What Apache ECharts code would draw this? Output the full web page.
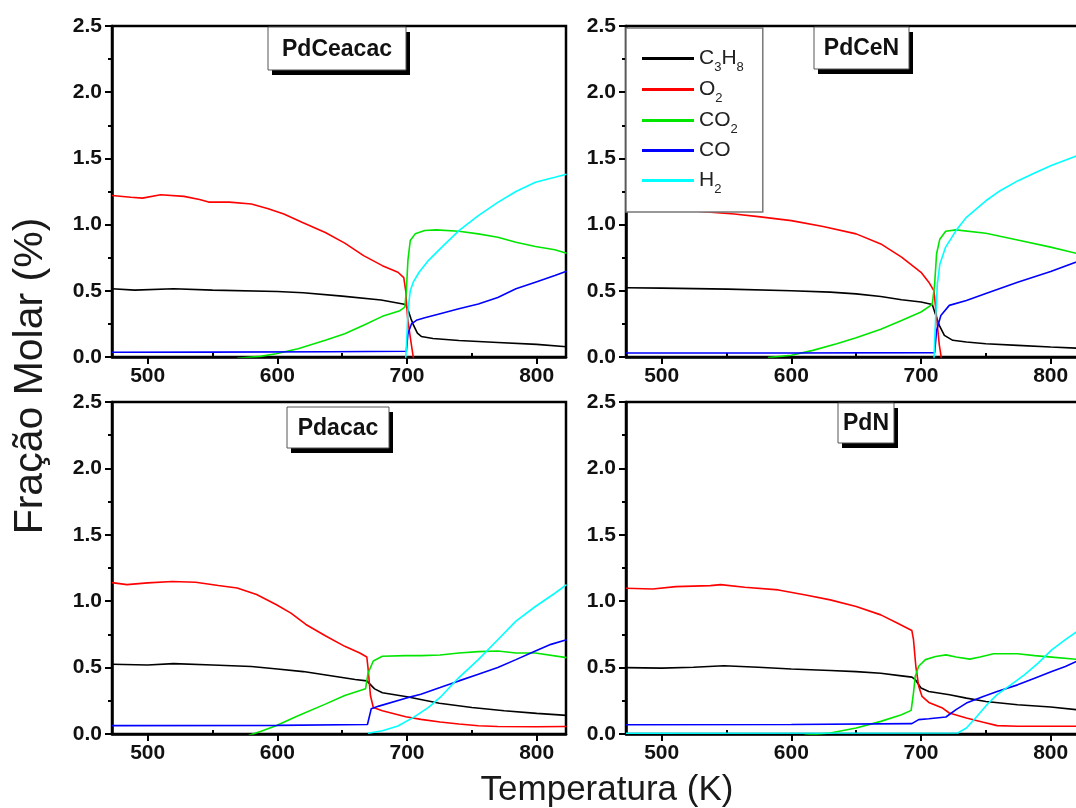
<!DOCTYPE html>
<html>
<head>
<meta charset="utf-8">
<title>Fração molar vs temperatura</title>
<script src="https://cdn.jsdelivr.net/npm/echarts@6/dist/echarts.min.js"></script>
<style>
  html, body { margin: 0; padding: 0; background: #fff; }
  #chart { width: 1076px; height: 808px; }
</style>
</head>
<body>
<div id="chart"></div>
<script>
// Temperature axis range (K) and tick positions
const xMin = 472.5;
const xMax = 822.6;
const xMajorTicks = [500, 600, 700, 800];
const xMinorTicks = [550, 650, 750];

const panelNames = ['PdCeacac', 'PdCeN', 'Pdacac', 'PdN'];
const speciesNames = ['C3H8', 'O2', 'CO2', 'CO', 'H2'];
const speciesLabels = ['C{s|3}H{s|8}', 'O{s|2}', 'CO{s|2}', 'CO', 'H{s|2}'];
const speciesColors = ['#000000', '#ff0000', '#00e600', '#0000ff', '#00ffff'];

// ---- PdCeacac : [T (K), molar fraction (%)] ----
const pdCeacacC3H8 = [[472.5,0.515],[490,0.505],[520,0.515],[550,0.505],[600,0.495],[620,0.485],[650,0.46],[680,0.43],[699,0.397],[701,0.35],[703,0.29],[705,0.24],[708,0.18],[711,0.155],[720,0.14],[740,0.125],[770,0.11],[800,0.095],[823,0.078]];
const pdCeacacO2 = [[472.5,1.22],[487,1.206],[496,1.2],[510,1.226],[528,1.213],[540,1.19],[547,1.17],[563,1.17],[580,1.155],[593,1.12],[605,1.08],[619,1.018],[637,0.94],[652,0.86],[666.5,0.766],[681,0.69],[693,0.64],[697.5,0.6],[699,0.5],[700.4,0.3],[702.5,0.15],[704.8,0],[706.5,-0.04]];
const pdCeacacCO2 = [[569,-0.01],[587,0.005],[599,0.025],[616,0.063],[637,0.126],[652,0.176],[666.5,0.24],[681,0.307],[694.5,0.35],[698.3,0.377],[699.5,0.5],[700.7,0.73],[702.5,0.88],[706.3,0.93],[713.7,0.955],[722.5,0.96],[740,0.95],[755,0.93],[770,0.905],[784,0.867],[799,0.834],[814,0.81],[823,0.784]];
const pdCeacacCO = [[472.5,0.036],[550,0.037],[640,0.04],[699.5,0.043],[700.7,0.176],[703.4,0.25],[707.8,0.28],[713.7,0.296],[725.5,0.327],[740,0.364],[755,0.4],[770,0.45],[784,0.515],[799,0.565],[814,0.615],[823,0.648]];
const pdCeacacH2 = [[699,-0.01],[700,0.176],[700.7,0.35],[702.5,0.5],[704.8,0.565],[709.3,0.64],[716.6,0.73],[725.5,0.817],[740,0.955],[755,1.068],[770,1.168],[784,1.25],[799,1.32],[814,1.357],[823,1.38]];

// ---- PdCeN ----
const pdCeNC3H8 = [[472.5,0.523],[500,0.52],[551,0.513],[600,0.5],[630,0.49],[650,0.477],[669,0.457],[685,0.432],[700,0.415],[708.7,0.397],[711,0.327],[714,0.24],[718,0.163],[724.5,0.126],[735,0.113],[750,0.1],[774.5,0.088],[800,0.075],[823,0.066]];
const pdCeNO2 = [[472.5,1.13],[500,1.12],[530,1.1],[556,1.08],[574.5,1.06],[600,1.03],[624.5,0.985],[650,0.93],[669,0.854],[685,0.754],[700,0.64],[706,0.565],[710,0.5],[712,0.3],[714,0.1],[716,-0.03]];
const pdCeNCO2 = [[582,-0.005],[600,0.013],[616.6,0.05],[635,0.1],[650,0.146],[669,0.21],[685,0.276],[700,0.34],[708.7,0.397],[710.5,0.55],[712,0.78],[714.5,0.89],[719,0.95],[727,0.96],[750,0.935],[774.5,0.884],[800,0.83],[823,0.775]];
const pdCeNCO = [[472.5,0.03],[600,0.03],[710.5,0.033],[712,0.2],[715.3,0.314],[721.8,0.39],[735,0.427],[750,0.48],[774.5,0.565],[800,0.645],[823,0.73]];
const pdCeNH2 = [[710,-0.01],[711.3,0.3],[712.6,0.55],[714.5,0.7],[719,0.83],[727,0.955],[735,1.055],[750,1.18],[761,1.256],[774.5,1.33],[787.6,1.39],[800,1.445],[823,1.53]];

// ---- Pdacac ----
const pdacacC3H8 = [[472.5,0.525],[500,0.52],[520,0.53],[550,0.52],[580,0.508],[600,0.49],[620,0.47],[640,0.44],[660,0.41],[669,0.4],[675,0.34],[681,0.31],[700,0.28],[725,0.232],[750,0.2],[775,0.175],[800,0.155],[823,0.14]];
const pdacacO2 = [[472.5,1.14],[484,1.125],[500,1.138],[519,1.148],[537,1.143],[554.5,1.118],[569,1.1],[584,1.05],[599,0.975],[610.5,0.91],[622,0.825],[637,0.74],[652,0.66],[663.6,0.61],[669,0.58],[670,0.49],[671.8,0.29],[674,0.2],[681,0.175],[699,0.13],[710.7,0.11],[725.5,0.09],[740,0.075],[755,0.062],[770,0.057],[799,0.055],[823,0.057]];
const pdacacCO2 = [[578,-0.01],[587,0.018],[599,0.062],[616,0.137],[637,0.225],[652,0.29],[668,0.34],[670,0.46],[674,0.55],[681,0.585],[699,0.59],[711,0.59],[725.5,0.595],[740,0.61],[755,0.62],[770,0.625],[784,0.61],[799,0.61],[823,0.575]];
const pdacacCO = [[472.5,0.063],[600,0.065],[669.5,0.072],[672.4,0.19],[678.3,0.21],[699,0.27],[710.7,0.3],[725.5,0.35],[740,0.4],[755,0.45],[770,0.5],[784,0.56],[799,0.625],[811,0.675],[823,0.71]];
const pdacacH2 = [[670,0.005],[681,0.025],[693,0.06],[705,0.125],[716.6,0.2],[725.5,0.275],[740,0.425],[755,0.56],[770,0.71],[784,0.85],[799,0.96],[814,1.06],[823,1.125]];

// ---- PdN ----
const pdNC3H8 = [[472.5,0.5],[500,0.496],[524.5,0.503],[548,0.514],[574.5,0.503],[600,0.49],[630,0.478],[650,0.47],[669,0.458],[685,0.438],[693,0.428],[695.5,0.41],[700,0.346],[706,0.32],[722,0.296],[735,0.27],[750,0.245],[774.5,0.22],[800,0.203],[823,0.18]];
const pdNO2 = [[472.5,1.097],[493,1.092],[511,1.11],[537.6,1.117],[545.5,1.125],[564,1.105],[590,1.085],[611,1.047],[630,1.01],[650,0.96],[669,0.897],[682,0.834],[692.9,0.78],[694.2,0.71],[696,0.51],[698.2,0.36],[700.8,0.283],[706,0.238],[716.6,0.195],[721.8,0.158],[735,0.12],[748,0.088],[758.7,0.063],[774.5,0.058],[823,0.058]];
const pdNCO2 = [[610,-0.01],[630,0.008],[650,0.045],[669,0.095],[685,0.145],[692.4,0.178],[694.2,0.31],[695.5,0.433],[698.2,0.51],[703.4,0.56],[711.3,0.584],[719.2,0.596],[727,0.58],[737.6,0.564],[745.5,0.58],[756,0.604],[774.5,0.604],[787.6,0.59],[800.8,0.579],[823,0.56]];
const pdNCO = [[472.5,0.07],[600,0.072],[692.9,0.078],[698.2,0.108],[706,0.115],[719.2,0.128],[727,0.183],[735,0.233],[748,0.283],[758.7,0.32],[774.5,0.37],[787.6,0.42],[800.8,0.47],[811.3,0.508],[823,0.56]];
const pdNH2 = [[472.5,0.006],[728.4,0.008],[735,0.045],[742.9,0.13],[750.8,0.22],[758.7,0.296],[769.2,0.37],[779.7,0.446],[790.3,0.534],[800.8,0.634],[811.3,0.71],[823,0.79]];

const panelSeries = [
  [pdCeacacC3H8, pdCeacacO2, pdCeacacCO2, pdCeacacCO, pdCeacacH2],
  [pdCeNC3H8, pdCeNO2, pdCeNCO2, pdCeNCO, pdCeNH2],
  [pdacacC3H8, pdacacO2, pdacacCO2, pdacacCO, pdacacH2],
  [pdNC3H8, pdNO2, pdNCO2, pdNCO, pdNH2]
];

const FONT = "'Liberation Sans', Arial, Helvetica, sans-serif";

// Plot rectangles of the four panels
const gridBoxes = [
  { left: 112, top: 26, width: 454, height: 331 },
  { left: 626, top: 26, width: 454, height: 331 },
  { left: 112, top: 402, width: 454, height: 332 },
  { left: 626, top: 402, width: 454, height: 332 }
];

// Sample-name boxes (with a hard drop shadow) inside each panel
const nameBoxes = [
  { x: 268, y: 27, w: 138, h: 43 },
  { x: 814, y: 27, w: 95, h: 42 },
  { x: 287, y: 407, w: 102, h: 41 },
  { x: 838, y: 403, w: 56, h: 40 }
];

const grids = gridBoxes.map(b => Object.assign({
  show: true,
  borderColor: '#000',
  borderWidth: 2.5,
  backgroundColor: 'transparent',
  containLabel: false,
  outerBoundsMode: 'none'
}, b));

const xAxes = [];
const yAxes = [];
gridBoxes.forEach((b, i) => {
  xAxes.push({
    type: 'value', gridIndex: i, min: xMin, max: xMax,
    axisLine: { show: true, onZero: false, lineStyle: { color: '#000', width: 2.5 } },
    axisTick: { show: true, inside: false, length: 7, customValues: xMajorTicks,
      lineStyle: { color: '#000', width: 2 } },
    axisLabel: { show: true, margin: 9, customValues: xMajorTicks,
      fontFamily: FONT, fontSize: 21, fontWeight: 'bold', color: '#111' },
    splitLine: { show: false }
  });
  xAxes.push({
    type: 'value', gridIndex: i, min: xMin, max: xMax,
    axisLine: { show: false },
    axisTick: { show: true, inside: false, length: 4, customValues: xMinorTicks,
      lineStyle: { color: '#000', width: 2 } },
    axisLabel: { show: false },
    splitLine: { show: false }
  });
  yAxes.push({
    type: 'value', gridIndex: i, min: 0, max: 2.5, interval: 0.5,
    axisLine: { show: true, onZero: false, lineStyle: { color: '#000', width: 2.5 } },
    axisTick: { show: true, inside: false, length: 7, lineStyle: { color: '#000', width: 2 } },
    minorTick: { show: true, splitNumber: 2, length: 4, lineStyle: { color: '#000', width: 2 } },
    axisLabel: { margin: 10, fontFamily: FONT, fontSize: 21, fontWeight: 'bold', color: '#111',
      formatter: v => v.toFixed(1) },
    splitLine: { show: false },
    minorSplitLine: { show: false }
  });
});

const series = [];
panelSeries.forEach((list, p) => {
  list.forEach((data, k) => {
    series.push({
      type: 'line',
      name: speciesNames[k],
      xAxisIndex: p * 2,
      yAxisIndex: p,
      data: data,
      symbol: 'none',
      clip: true,
      smooth: false,
      animation: false,
      lineStyle: { color: speciesColors[k], width: 1.6 },
      itemStyle: { color: speciesColors[k] }
    });
  });
});

// Name boxes: black offset shadow, white framed box, bold label
const nameGraphics = panelNames.map((name, i) => {
  const b = nameBoxes[i];
  return {
    type: 'group', z: 100,
    children: [
      { type: 'rect', z: 100, shape: { x: b.x + 4, y: b.y + 5, width: b.w, height: b.h },
        style: { fill: '#000' } },
      { type: 'rect', z: 101, shape: { x: b.x, y: b.y, width: b.w, height: b.h },
        style: { fill: '#fff', stroke: '#555', lineWidth: 1 } },
      { type: 'text', z: 102, x: b.x + b.w / 2, y: b.y + b.h / 2 + 1,
        style: { text: name, fontFamily: FONT, fontSize: 23, fontWeight: 'bold',
          fill: '#111', align: 'center', verticalAlign: 'middle' } }
    ]
  };
});

const option = {
  backgroundColor: '#fff',
  animation: false,
  grid: grids,
  xAxis: xAxes,
  yAxis: yAxes,
  legend: {
    show: true,
    orient: 'vertical',
    left: 626,
    top: 28,
    padding: [15, 19, 16, 16],
    itemGap: 0,
    itemWidth: 52,
    itemHeight: 3,
    icon: 'rect',
    backgroundColor: '#fff',
    borderColor: '#777',
    borderWidth: 1.5,
    borderRadius: 0,
    selectedMode: false,
    z: 10,
    data: speciesNames,
    formatter: name => speciesLabels[speciesNames.indexOf(name)],
    textStyle: {
      fontFamily: FONT, fontSize: 21, color: '#222', lineHeight: 29,
      rich: {
        s: { fontFamily: FONT, fontSize: 13, color: '#222', lineHeight: 11, padding: [18, 0, 0, 0] }
      }
    }
  },
  graphic: nameGraphics.concat([
    {
      type: 'text', x: 31, y: 376, rotation: Math.PI / 2,
      style: { text: 'Fração Molar (%)', fontFamily: FONT, fontSize: 41,
        fill: '#1a1a1a', align: 'center', verticalAlign: 'middle' }
    },
    {
      type: 'text', x: 607, y: 790,
      style: { text: 'Temperatura (K)', fontFamily: FONT, fontSize: 35,
        fill: '#1a1a1a', align: 'center', verticalAlign: 'middle' }
    }
  ]),
  series: series
};

const chart = echarts.init(document.getElementById('chart'), null, { renderer: 'canvas' });
chart.setOption(option);
</script>
</body>
</html>
